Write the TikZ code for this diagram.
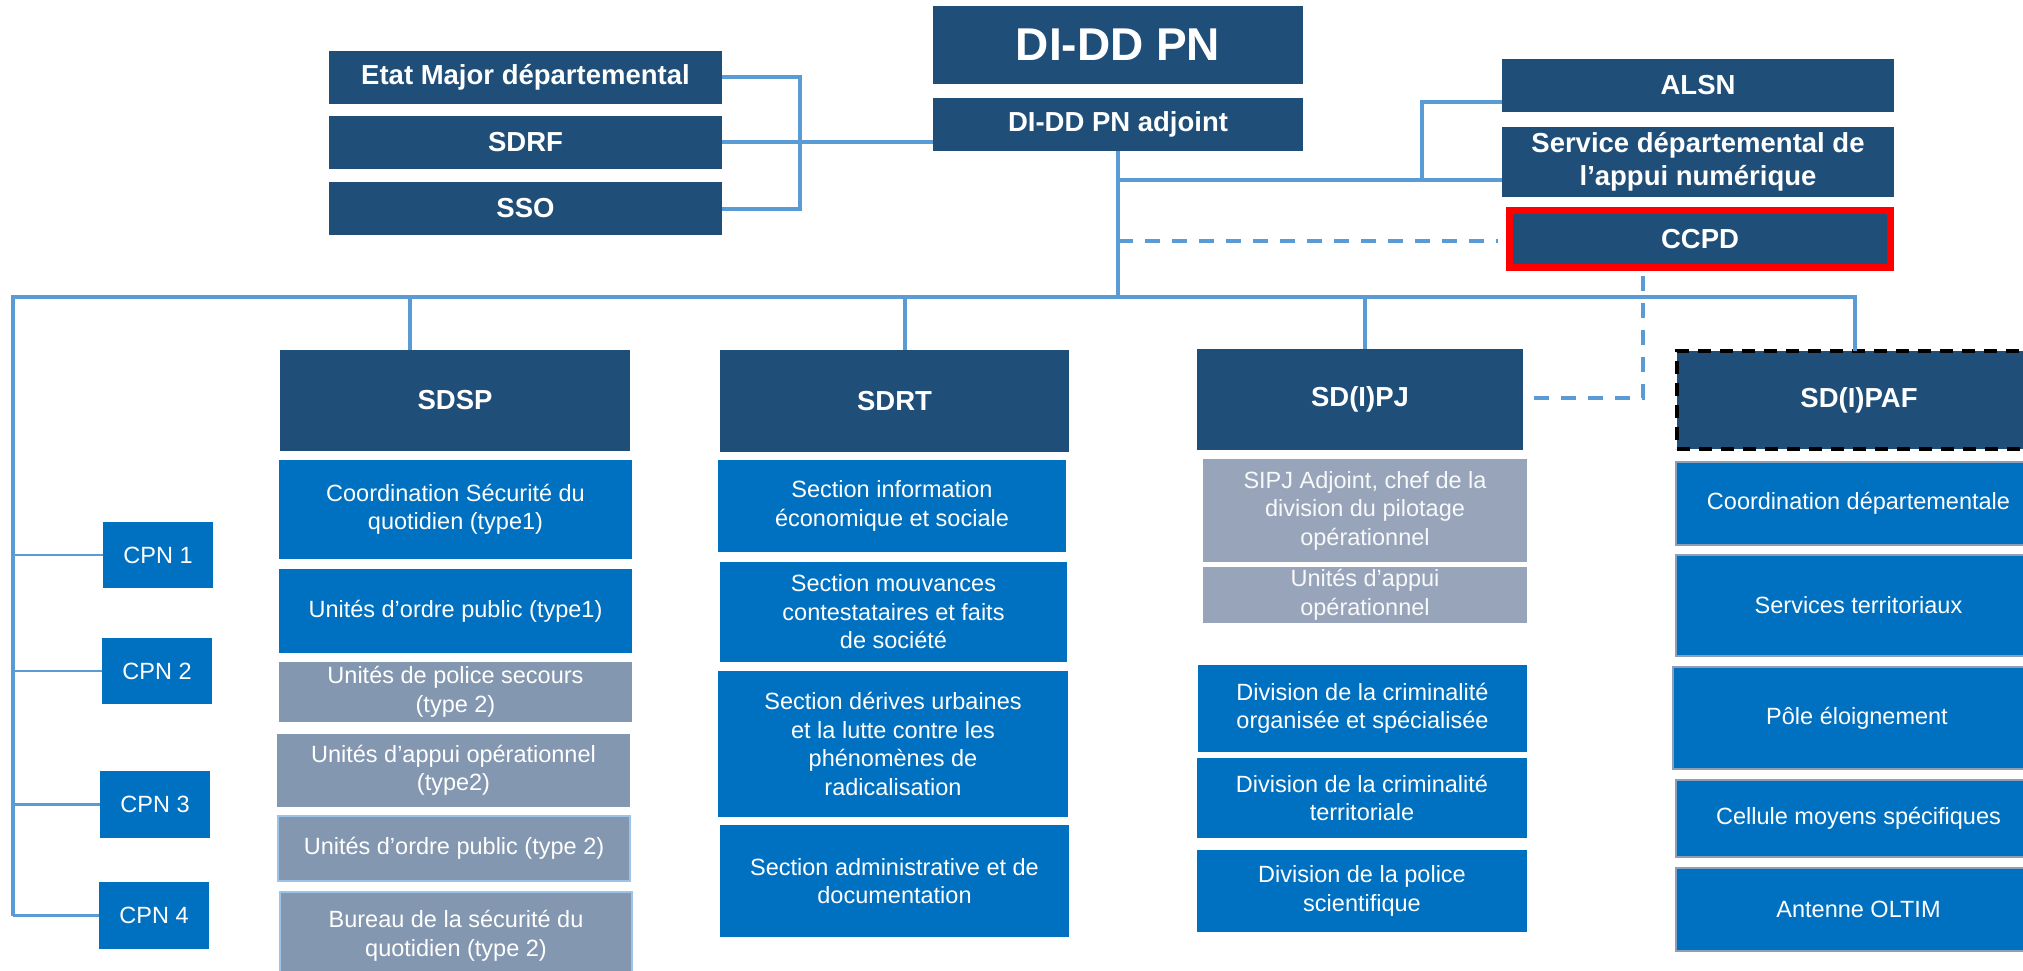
\documentclass[tikz,border=0pt]{standalone}
\usepackage{fontspec}
\setmainfont{Liberation Sans}
\usetikzlibrary{calc}
\definecolor{navy}{HTML}{1F4E79}
\definecolor{mblue}{HTML}{0070C0}
\definecolor{sgray}{HTML}{8497B0}
\definecolor{lgray}{HTML}{97A4BA}
\definecolor{lnblue}{HTML}{5B9BD5}
\definecolor{bordblue}{HTML}{9DC3E6}
\definecolor{pafbord}{HTML}{8D9FB6}
\tikzset{
  bx/.style={inner sep=0pt, outer sep=0pt, align=center, text=white, font=\fontsize{23.5}{28.5}\selectfont},
  hdr/.style={font=\fontsize{27.5}{33}\selectfont\bfseries},
  navybox/.style={fill=navy},
  bluebox/.style={fill=mblue},
  graybox/.style={fill=sgray},
  lgraybox/.style={fill=lgray, text=white!93!lgray},
  pafbox/.style={fill=mblue, draw=pafbord, line width=2pt},
  conn/.style={draw=lnblue, line width=4pt},
  thinconn/.style={draw=lnblue, line width=2.5pt},
  dconn/.style={draw=lnblue, line width=3.5pt, dash pattern=on 15pt off 12pt},
}
\newcommand{\orgbox}[7]{\node[bx,#2,minimum width={(#5)-(#3)},minimum height={(#6)-(#4)}] (#1) at ({((#3)+(#5))/2},{((#4)+(#6))/2}) {#7};}
\begin{document}
\begin{tikzpicture}[x=1pt,y=-1pt]
\useasboundingbox (0,0) rectangle (2023,971);
\clip (0,0) rectangle (2023,971);
\fill[white] (0,0) rectangle (2023,971);

% top level
\orgbox{di}{navybox,font=\fontsize{46}{50}\selectfont\bfseries}{933}{6}{1303}{84}{DI-DD PN}
\orgbox{adj}{navybox,hdr}{933}{98}{1303}{151}{DI-DD PN adjoint}
\orgbox{etat}{navybox,hdr}{329}{51}{722}{104}{Etat Major départemental}
\orgbox{sdrf}{navybox,hdr}{329}{116}{722}{169}{SDRF}
\orgbox{sso}{navybox,hdr}{329}{182}{722}{235}{SSO}
\orgbox{alsn}{navybox,hdr}{1502}{59}{1894}{112}{ALSN}
\orgbox{svc}{navybox,hdr}{1502}{127}{1894}{197}{Service départemental de\\l’appui numérique}
\orgbox{ccpd}{navybox,hdr,draw=red,line width=7pt}{1509.5}{210.5}{1890.5}{267.5}{CCPD}

% SDSP column
\orgbox{sdsp}{navybox,hdr}{280}{350}{630}{451}{SDSP}
\orgbox{s1}{bluebox}{279}{460}{632}{559}{Coordination Sécurité du\\quotidien (type1)}
\orgbox{s2}{bluebox}{279}{569}{632}{653}{Unités d’ordre public (type1)}
\orgbox{s3}{graybox}{279}{662}{632}{722}{Unités de police secours\\(type 2)}
\orgbox{s4}{graybox}{277}{734}{630}{807}{Unités d’appui opérationnel\\(type2)}
\orgbox{s5}{graybox,draw=bordblue,line width=2pt}{278}{816}{630}{881}{Unités d’ordre public (type 2)}
\orgbox{s6}{graybox,draw=bordblue,line width=2pt}{280}{892}{632}{980}{Bureau de la sécurité du\\quotidien (type 2)}

% CPN
\orgbox{cpn1}{bluebox}{103}{522}{213}{588}{CPN 1}
\orgbox{cpn2}{bluebox}{102}{638}{212}{704}{CPN 2}
\orgbox{cpn3}{bluebox}{100}{771}{210}{838}{CPN 3}
\orgbox{cpn4}{bluebox}{99}{882}{209}{949}{CPN 4}

% SDRT column
\orgbox{sdrt}{navybox,hdr}{720}{350}{1069}{452}{SDRT}
\orgbox{r1}{bluebox}{718}{460}{1066}{552}{Section information\\économique et sociale}
\orgbox{r2}{bluebox}{720}{562}{1067}{662}{Section mouvances\\contestataires et faits\\de société}
\orgbox{r3}{bluebox}{718}{671}{1068}{817}{Section dérives urbaines\\et la lutte contre les\\phénomènes de\\radicalisation}
\orgbox{r4}{bluebox}{720}{825}{1069}{937}{Section administrative et de\\documentation}

% SD(I)PJ column
\orgbox{sdpj}{navybox,hdr}{1197}{349}{1523}{450}{SD(I)PJ}
\orgbox{j1}{lgraybox}{1203}{459}{1527}{562}{SIPJ Adjoint, chef de la\\division du pilotage\\opérationnel}
\orgbox{j2}{lgraybox}{1203}{567}{1527}{623}{Unités d’appui\\opérationnel}
\orgbox{j3}{bluebox}{1198}{665}{1527}{752}{Division de la criminalité\\organisée et spécialisée}
\orgbox{j4}{bluebox}{1197}{758}{1527}{838}{Division de la criminalité\\territoriale}
\orgbox{j5}{bluebox}{1197}{850}{1527}{932}{Division de la police\\scientifique}

% SD(I)PAF column
\orgbox{paf}{navybox,hdr,draw=black,line width=4pt,dash pattern=on 13pt off 9pt}{1677}{351}{2041}{449}{SD(I)PAF}
\orgbox{p1}{pafbox}{1676}{462}{2041}{545}{Coordination départementale}
\orgbox{p2}{pafbox}{1676}{555}{2041}{656}{Services territoriaux}
\orgbox{p3}{pafbox}{1673}{667}{2041}{769}{Pôle éloignement}
\orgbox{p4}{pafbox}{1676}{780}{2041}{857}{Cellule moyens spécifiques}
\orgbox{p5}{pafbox}{1676}{868}{2041}{951}{Antenne OLTIM}

% connectors
\coordinate (bk) at (800,143);
\draw[conn] (etat.east) -| (bk) |- (sso.east);
\draw[conn] (sdrf.east) -- (sdrf.east -| adj.west);

\coordinate (bl) at (13,297);
\coordinate (br) at (1855,297);
\draw[conn] (adj.south) -- (adj.south |- bl);
\draw[conn] (bl |- cpn4.west) -- (bl) -- (br) -- (br |- paf.north);
\coordinate (d1) at (410,297);
\coordinate (d2) at (905,297);
\coordinate (d3) at (1365,297);
\draw[conn] (d1) -- (d1 |- sdsp.north);
\draw[conn] (d2) -- (d2 |- sdrt.north);
\draw[conn] (d3) -- (d3 |- sdpj.north);

\draw[thinconn] (bl |- cpn1.west) -- (cpn1.west);
\draw[thinconn] (bl |- cpn2.west) -- (cpn2.west);
\draw[thinconn] (bl |- cpn3.west) -- (cpn3.west);
\draw[thinconn] (bl |- cpn4.west) -- (cpn4.west);

\coordinate (ta) at (1118,180);
\coordinate (tb) at (1422,180);
\coordinate (tc) at (1422,102);
\draw[conn] (ta) -- (ta -| svc.west);
\draw[conn] (tb) -- (tc) -- (tc -| alsn.west);

\coordinate (td) at (1118,241);
\coordinate (te) at (1498,241);
\draw[dconn] (td) -- (te);
\coordinate (tf) at (1643,276);
\coordinate (tg) at (1643,398);
\coordinate (th) at (1528,398);
\draw[dconn] (tf) -- (tg) -- (th);
\end{tikzpicture}
\end{document}
